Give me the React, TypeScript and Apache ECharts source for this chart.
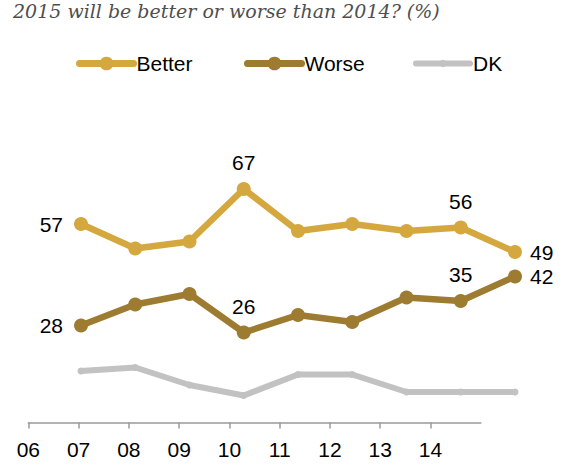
import React, { useRef, useEffect } from "react";
import * as echarts from "echarts";

// 年份刻度 (底部坐标轴) 与数据点年份
const axisYears = ["06", "07", "08", "09", "10", "11", "12", "13", "14", ""];
const dataYears = ["07", "08", "09", "10", "11", "12", "13", "14", "15"];

const better = [57, 50, 52, 67, 55, 57, 55, 56, 49];
const worse = [28, 34, 37, 26, 31, 29, 36, 35, 42];
const dk = [15, 16, 11, 8, 14, 14, 9, 9, 9];

const TITLE = "2015 will be better or worse than 2014? (%)";

const COLORS = {
  better: "#D4A83F",
  worse: "#9D7C31",
  dk: "#C2C2C2",
};

// 标注位置 (点序号 -> 位置)
const BETTER_LABELS: Record<number, string> = { 0: "left", 3: "top", 7: "top", 8: "right" };
const WORSE_LABELS: Record<number, string> = { 0: "left", 3: "top", 7: "top", 8: "right" };

const FONT = "'Liberation Sans', Arial, Helvetica, sans-serif";

const withLabels = (values: number[], labels: Record<number, string>) =>
  values.map((v, i) => {
    const pos = labels[i];
    if (!pos) return v;
    return {
      value: v,
      label: {
        show: true,
        position: pos,
        distance: pos === "top" ? 9 : pos === "left" ? 11 : 8,
        color: "#000",
        fontSize: 21,
        fontFamily: FONT,
      },
    };
  });

const App: React.FC = () => {
  const ref = useRef<HTMLDivElement>(null);

  useEffect(() => {
    document.body.style.margin = "0";
    if (!ref.current) return;
    const chart = echarts.init(ref.current, null, { renderer: "svg" });

    const legendBase = {
      orient: "horizontal" as const,
      top: 53,
      padding: 0,
      itemWidth: 54,
      textStyle: { fontSize: 21, color: "#000", fontFamily: FONT, padding: [0, 0, 0, -2] },
      selectedMode: false,
    };

    chart.setOption({
      animation: false,
      backgroundColor: "#fff",
      title: {
        text: TITLE,
        left: 13,
        top: 1,
        padding: 0,
        textStyle: {
          fontFamily: "'DejaVu Serif', Georgia, serif",
          fontStyle: "italic",
          fontWeight: "normal",
          fontSize: 19,
          color: "#4f4f4f",
        },
      },
      legend: [
        {
          ...legendBase,
          left: 76,
          itemHeight: 17,
          data: ["Better"],
          lineStyle: { width: 7, cap: "round" },
        },
        {
          ...legendBase,
          left: 244,
          itemHeight: 17,
          data: ["Worse"],
          lineStyle: { width: 7, cap: "round" },
        },
        {
          ...legendBase,
          left: 413,
          itemHeight: 9,
          data: ["DK"],
          lineStyle: { width: 6, cap: "round" },
        },
      ],
      grid: [
        { left: 28.3, width: 452.5, top: 143.5, bottom: 46.5 },
        { left: 81, width: 434, top: 143.5, height: 280 },
      ],
      xAxis: [
        {
          type: "category",
          gridIndex: 0,
          data: axisYears,
          boundaryGap: false,
          axisLine: { lineStyle: { color: "#9a9a9a", width: 1.5 } },
          axisTick: {
            length: 6,
            interval: (idx: number) => idx < axisYears.length - 1,
            lineStyle: { color: "#9a9a9a", width: 1.5 },
          },
          axisLabel: {
            interval: 0,
            margin: 16,
            fontSize: 21,
            color: "#000",
            fontFamily: FONT,
          },
          splitLine: { show: false },
        },
        {
          type: "category",
          gridIndex: 1,
          data: dataYears,
          boundaryGap: false,
          show: false,
        },
      ],
      yAxis: [
        { type: "value", gridIndex: 0, show: false, min: 0, max: 80 },
        { type: "value", gridIndex: 1, show: false, min: 0, max: 80 },
      ],
      series: [
        {
          name: "DK",
          type: "line",
          xAxisIndex: 1,
          yAxisIndex: 1,
          data: dk,
          symbol: "circle",
          symbolSize: 7,
          lineStyle: { color: COLORS.dk, width: 6, cap: "round", join: "round" },
          itemStyle: { color: COLORS.dk },
        },
        {
          name: "Worse",
          type: "line",
          xAxisIndex: 1,
          yAxisIndex: 1,
          data: withLabels(worse, WORSE_LABELS),
          symbol: "circle",
          symbolSize: 14,
          lineStyle: { color: COLORS.worse, width: 6.5, join: "round" },
          itemStyle: { color: COLORS.worse },
        },
        {
          name: "Better",
          type: "line",
          xAxisIndex: 1,
          yAxisIndex: 1,
          data: withLabels(better, BETTER_LABELS),
          symbol: "circle",
          symbolSize: 14,
          lineStyle: { color: COLORS.better, width: 6.5, join: "round" },
          itemStyle: { color: COLORS.better },
        },
      ],
    });

    return () => chart.dispose();
  }, []);

  return <div ref={ref} style={{ width: 563, height: 469 }} />;
};

export default App;
